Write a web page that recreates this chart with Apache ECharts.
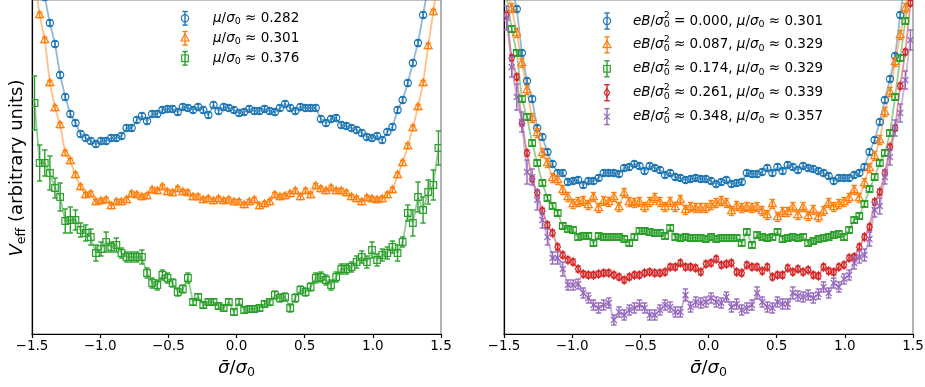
<!DOCTYPE html>
<html><head><meta charset="utf-8">
<script src="https://cdn.jsdelivr.net/npm/echarts@6/dist/echarts.min.js"></script>
<style>html,body{margin:0;padding:0;background:#fff}#c{width:925px;height:387px}</style>
</head><body><div id="c"></div>
<script>
// ---------- data ----------
const sigmaGrid = Array.from({length: 80}, (_, i) => -1.48125 + 0.0375 * i); // sampled sigma/sigma0 positions
const xTicks = [-1.5, -1.0, -0.5, 0.0, 0.5, 1.0, 1.5];

const leftMu = ['0.282', '0.301', '0.376'];
const rightEB = ['0.000', '0.087', '0.174', '0.261', '0.348'];
const rightMu = ['0.301', '0.329', '0.329', '0.339', '0.357'];

// Left panel (arbitrary units)
const leftBlue = [
414,374,337,311,290,259,237,220,211,200,
196,193,190,193,193,196,196,198,206,206,
214,218,213,220,220,224,225,225,222,227,
226,224,227,224,219,229,223,227,226,224,
221,222,225,223,223,225,223,222,226,230,
226,223,227,226,226,226,215,211,215,216,
209,208,206,204,201,197,196,198,194,202,
207,224,234,251,271,291,319,349,384,424];
const leftOrange = [
354,319,294,251,226,209,181,173,159,147,
139,140,132,133,134,128,132,132,134,140,
139,137,138,144,143,147,142,141,145,142,
141,137,137,134,135,133,135,133,134,132,
132,129,132,134,128,130,132,139,137,138,
140,143,137,143,139,148,145,143,146,143,
143,141,137,135,132,136,135,134,135,139,
144,159,171,188,206,227,251,288,322,359];
const leftGreen = [
231,171,171,161,146,137,113,114,114,104,
101,97,81,85,92,87,89,81,77,77,
77,77,61,51,49,59,56,51,42,45,
56,32,37,29,32,32,28,26,32,22,
32,24,25,25,26,30,32,39,36,37,
26,36,44,42,47,56,57,54,49,57,
65,65,67,72,77,72,84,74,79,81,
87,81,92,121,111,137,124,142,149,186];
const leftBlueErr = 2.8;
const leftOrangeErr = 2.6;
const leftGreenErr = [
27,18,13,17,10,14,12,13,10,7,
8,8,8,7,10,5,7,5,5,5,
5,7,5,5,5,5,5,4,4,4,
5,3,3,3,3,3,3,3,3,3,
3,3,3,3,3,3,3,4,4,4,
4,4,4,4,4,5,5,5,5,5,
5,5,5,6,6,6,8,6,6,6,
6,8,5,8,13,15,13,12,15,17];

// Right panel (arbitrary units)
const rightBlue = [
374,349,325,281,253,235,206,197,182,170,
161,161,152,153,154,149,153,153,156,161,
161,161,160,166,167,170,168,163,168,166,
164,159,161,157,156,154,155,156,155,155,
153,150,152,154,150,151,152,161,160,160,
162,166,161,167,163,169,167,164,168,166,
165,163,161,158,153,156,156,156,159,161,
167,182,194,212,234,255,278,319,354,394];
const rightOrange = [
349,326,301,271,244,216,201,181,171,156,
154,144,137,130,132,133,129,137,126,133,
132,137,127,141,132,131,132,127,132,136,
132,127,132,127,134,124,127,126,126,126,
129,131,133,131,123,128,126,127,126,127,
123,119,130,117,122,122,127,119,127,118,
124,117,123,131,127,130,132,136,144,136,
151,166,178,194,222,242,272,299,326,359];
const rightGreen = [
339,305,281,235,217,191,171,151,136,128,
121,108,105,104,97,98,98,91,98,97,
97,97,97,95,91,97,103,103,102,101,
101,98,106,97,96,97,96,96,96,95,
97,95,96,96,96,96,91,102,89,99,
97,96,97,102,95,96,97,96,97,91,
93,95,96,97,99,100,97,104,114,118,
130,145,157,171,181,201,237,276,313,349];
const rightRed = [
319,276,257,211,181,155,141,123,109,101,
87,79,74,72,65,60,59,59,60,61,
61,59,57,54,57,59,59,61,62,61,
61,62,67,67,71,67,67,66,62,70,
71,75,69,70,71,62,61,69,67,67,
63,67,57,59,59,66,62,65,62,64,
59,58,67,63,62,67,69,76,77,87,
97,107,132,142,161,187,206,248,282,331];
const rightPurple = [
316,267,237,212,162,157,134,114,97,76,
76,65,49,49,50,41,36,29,26,29,
31,14,22,19,24,26,29,26,19,19,
24,29,27,22,22,39,27,32,31,32,
36,32,31,37,27,30,24,26,29,41,
32,27,26,32,30,30,41,38,37,39,
36,40,47,41,51,47,55,59,71,77,
79,95,124,128,157,177,206,221,254,294];
const rightBlueErr = 2.6;
const rightOrangeErr = 4.5;
const rightGreenErr = 2.6;
const rightRedErr = 2.8;
const rightPurpleErr = [
12,10,13,10,12,8,10,8,8,6,
6,7,5,5,5,5,5,5,5,5,
5,5,5,5,5,5,5,5,5,5,
5,5,5,5,5,6,5,5,5,5,
5,5,5,5,5,5,5,5,5,6,
5,5,5,5,5,5,6,5,5,5,
5,5,5,5,5,5,5,5,6,6,
6,7,7,8,7,8,8,9,9,10];

// ---------- styling ----------
const COLORS = ['#1f77b4', '#ff7f0e', '#2ca02c', '#d62728', '#9467bd'];
const FONT = '"DejaVu Sans", sans-serif';
const GRIDS = [{left: 32, width: 409}, {left: 504, width: 409}];
const TOP = 0, HEIGHT = 334;

function markerEls(type, cx, cy, color) {
  const st = {fill: 'none', stroke: color, lineWidth: 1.2};
  switch (type) {
    case 'o': return [{type: 'circle', shape: {cx, cy, r: 3.6}, style: st}];
    case '^': return [{type: 'polygon', shape: {points: [[cx, cy - 4.4], [cx - 4, cy + 2.7], [cx + 4, cy + 2.7]]}, style: st}];
    case 's': return [{type: 'rect', shape: {x: cx - 3.3, y: cy - 3.3, width: 6.6, height: 6.6}, style: st}];
    case 'd': return [{type: 'polygon', shape: {points: [[cx, cy - 4.2], [cx + 2.8, cy], [cx, cy + 4.2], [cx - 2.8, cy]]}, style: st}];
    case 'x': return [
      {type: 'line', shape: {x1: cx - 3, y1: cy - 3, x2: cx + 3, y2: cy + 3}, style: st},
      {type: 'line', shape: {x1: cx - 3, y1: cy + 3, x2: cx + 3, y2: cy - 3}, style: st}];
  }
  return [];
}
function errEls(cx, yTop, yBot, color, cap) {
  const st = {stroke: color, lineWidth: 1.4};
  return [
    {type: 'line', shape: {x1: cx, y1: yTop, x2: cx, y2: yBot}, style: st},
    {type: 'line', shape: {x1: cx - cap, y1: yTop, x2: cx + cap, y2: yTop}, style: st},
    {type: 'line', shape: {x1: cx - cap, y1: yBot, x2: cx + cap, y2: yBot}, style: st}];
}

const panels = [
  [{v: leftBlue, e: leftBlueErr, m: 'o'}, {v: leftOrange, e: leftOrangeErr, m: '^'}, {v: leftGreen, e: leftGreenErr, m: 's'}],
  [{v: rightBlue, e: rightBlueErr, m: 'o'}, {v: rightOrange, e: rightOrangeErr, m: '^'}, {v: rightGreen, e: rightGreenErr, m: 's'},
   {v: rightRed, e: rightRedErr, m: 'd'}, {v: rightPurple, e: rightPurpleErr, m: 'x'}]
];

const series = [];
panels.forEach((list, g) => {
  list.forEach((s, k) => {
    const color = COLORS[k];
    series.push({
      type: 'line', xAxisIndex: g, yAxisIndex: g, silent: true, clip: true, z: 2,
      symbol: 'none', showSymbol: false,
      lineStyle: {color, width: 1.8, opacity: 0.5}, itemStyle: {color},
      data: sigmaGrid.map((x, i) => [x, s.v[i]])
    });
    series.push({
      type: 'custom', xAxisIndex: g, yAxisIndex: g, silent: true, clip: true, z: 3,
      data: sigmaGrid.map((x, i) => [x, s.v[i], Array.isArray(s.e) ? s.e[i] : s.e]),
      renderItem: (params, api) => {
        const x = api.value(0), v = api.value(1), e = api.value(2);
        const p = api.coord([x, v]);
        const hi = api.coord([x, v + e]);
        const lo = api.coord([x, v - e]);
        return {type: 'group', children: errEls(p[0], hi[1], lo[1], color, 2.7).concat(markerEls(s.m, p[0], p[1], color))};
      }
    });
  });
});

// ---------- rich text via measured runs ----------
const mctx = document.createElement('canvas').getContext('2d');
function fontStr(s, it) { return (it ? 'italic ' : '') + s + 'px ' + FONT; }
function tw(t, s, it) { mctx.font = fontStr(s, it); return mctx.measureText(t).width; }
function runWidth(segs) { let w = 0; segs.forEach(g => { if (g.adv !== false) w += tw(g.t, g.s, g.it); }); return w; }
function runEls(segs, x0, y0) {
  let x = x0; const out = [];
  segs.forEach(g => {
    out.push({type: 'text', x: x, y: y0 + (g.dy || 0), silent: true,
      style: {text: g.t, font: fontStr(g.s, g.it), fill: '#000', align: 'left', verticalAlign: 'middle', textAlign: 'left', textVerticalAlign: 'middle'}});
    if (g.adv !== false) x += tw(g.t, g.s, g.it);
  });
  return out;
}

const graphics = [];
// x-axis names
const xName = [{t: 'σ̄', s: 18, it: true}, {t: '/', s: 18}, {t: 'σ', s: 18, it: true}, {t: '0', s: 12.6, dy: 4.5}];
GRIDS.forEach(gr => {
  const w = runWidth(xName);
  graphics.push(...runEls(xName, gr.left + gr.width / 2 - w / 2, 368));
});
// y-axis name (rotated)
const yName = [{t: 'V', s: 18, it: true}, {t: 'eff', s: 12.6, dy: 4.5}, {t: ' (arbitrary units)', s: 18}];
{
  const w = runWidth(yName);
  graphics.push({type: 'group', x: 17, y: 168, rotation: Math.PI / 2, children: runEls(yName, -w / 2, 0)});
}
// left legend
leftMu.forEach((mu, k) => {
  const y = 18.3 + 20 * k, color = COLORS[k];
  graphics.push({type: 'group', silent: true, children: errEls(185, y - 6.8, y + 6.8, color, 2.7).concat(markerEls(['o', '^', 's'][k], 185, y, color))});
  const segs = [{t: 'μ', s: 13.5, it: true}, {t: '/', s: 13.5}, {t: 'σ', s: 13.5, it: true}, {t: '0', s: 9.5, dy: 3.5}, {t: ' ≈ ' + mu, s: 13.5}];
  graphics.push(...runEls(segs, 213, y));
});
// right legend
rightEB.forEach((eb, k) => {
  const y = 21 + 23.9 * k, color = COLORS[k];
  graphics.push({type: 'group', silent: true, children: errEls(607, y - 8, y + 8, color, 2.7).concat(markerEls(['o', '^', 's', 'd', 'x'][k], 607, y, color))});
  const segs = [{t: 'eB', s: 13.5, it: true}, {t: '/', s: 13.5}, {t: 'σ', s: 13.5, it: true},
    {t: '2', s: 9.5, dy: -5, adv: false}, {t: '0', s: 9.5, dy: 4},
    {t: (k === 0 ? ' = ' : ' ≈ ') + eb + ', ', s: 13.5},
    {t: 'μ', s: 13.5, it: true}, {t: '/', s: 13.5}, {t: 'σ', s: 13.5, it: true}, {t: '0', s: 9.5, dy: 3.5},
    {t: ' ≈ ' + rightMu[k], s: 13.5}];
  graphics.push(...runEls(segs, 633, y));
});

const fmt = v => (v < 0 ? '\u2212' : '') + Math.abs(v).toFixed(1);

const option = {
  animation: false,
  backgroundColor: '#fff',
  grid: GRIDS.map(gr => ({left: gr.left, width: gr.width, top: TOP, height: HEIGHT, show: true,
    borderColor: '#808080', borderWidth: 1.2, backgroundColor: 'transparent', containLabel: false, outerBoundsMode: 'none'})),
  xAxis: GRIDS.map((gr, g) => ({
    type: 'value', gridIndex: g, min: xTicks[0], max: xTicks[xTicks.length - 1], interval: 0.5,
    axisLine: {onZero: false, lineStyle: {color: '#000', width: 1.2}},
    axisTick: {length: 4, lineStyle: {color: '#000', width: 1.2}},
    axisLabel: {fontFamily: FONT, fontSize: 13.5, color: '#000', margin: 5, formatter: fmt, showMinLabel: true, showMaxLabel: true},
    splitLine: {show: false}
  })),
  yAxis: GRIDS.map((gr, g) => ({
    type: 'value', gridIndex: g, min: 0, max: HEIGHT,
    axisLine: {show: true, onZero: false, lineStyle: {color: '#000', width: 1.2}},
    axisTick: {show: false}, axisLabel: {show: false}, splitLine: {show: false}
  })),
  series: series,
  graphic: graphics
};
const chart = echarts.init(document.getElementById('c'), null, {renderer: 'canvas'});
chart.setOption(option);
</script>
</body></html>
